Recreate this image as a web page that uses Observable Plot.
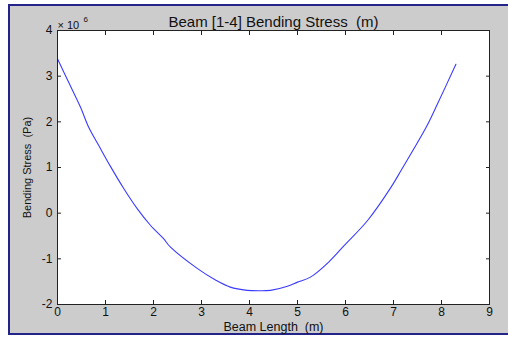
<!DOCTYPE html>
<html>
<head>
<meta charset="utf-8">
<script src="https://cdn.jsdelivr.net/npm/d3@7"></script>
<script src="https://cdn.jsdelivr.net/npm/@observablehq/plot@0.6"></script>
<style>
  html, body { margin: 0; padding: 0; background: #ffffff; }
  #wrap { position: relative; width: 508px; height: 338px; overflow: hidden; }
  #panel { position: absolute; left: 8px; top: 4px; width: 500px; height: 331px;
           background: #cccccc; border-top: 2px solid #23238a; border-left: 2px solid #23238a;
           border-bottom: 2px solid #23238a; box-sizing: border-box; }
  #chart { position: absolute; left: 0; top: 0; }
</style>
</head>
<body>
<div id="wrap"><div id="panel"></div><div id="chart"></div></div>
<script>
// Beam length (m)
const beamLength = [0, 0.24, 0.48, 0.65, 0.86, 1.10, 1.38, 1.66, 1.94, 2.21, 2.35, 2.91, 3.30, 3.60, 3.95, 4.20, 4.44, 4.79, 5.00, 5.27, 5.65, 5.98, 6.46, 6.95, 7.16, 7.68, 7.92, 8.30];
// Bending stress (x 10^6 Pa)
const bendingStress = [3.38, 2.85, 2.32, 1.88, 1.48, 1.03, 0.54, 0.10, -0.27, -0.56, -0.74, -1.21, -1.47, -1.62, -1.69, -1.70, -1.69, -1.60, -1.51, -1.40, -1.07, -0.70, -0.16, 0.57, 0.94, 1.88, 2.40, 3.26];
const xTicks = [0, 1, 2, 3, 4, 5, 6, 7, 8, 9];
const yTicks = [-2, -1, 0, 1, 2, 3, 4];
const titleText = "Beam [1-4] Bending Stress  (m)";
const xLabel = "Beam Length  (m)";
const yLabel = "Bending Stress  (Pa)";
const exponentBase = "× 10";
const exponentPower = "6";

const data = beamLength.map((x, i) => ({x, y: bendingStress[i]}));
const font = "'Liberation Sans', Arial, sans-serif";
const blank = () => "";
const plain = d => String(d);

const chart = Plot.plot({
  width: 508,
  height: 338,
  marginLeft: 57,
  marginRight: 19,
  marginTop: 30,
  marginBottom: 34,
  style: {background: "transparent", fontFamily: font, fontSize: "12px", color: "#111"},
  x: {domain: [0, 9]},
  y: {domain: [-2, 4]},
  marks: [
    Plot.frame({fill: "white"}),
    Plot.line(data, {x: "x", y: "y", stroke: "#3b3bff", strokeWidth: 1.1, curve: "catmull-rom"}),
    Plot.frame({stroke: "#222", strokeWidth: 1}),
    Plot.axisX(xTicks, {anchor: "bottom", tickSize: -4, tickFormat: blank, label: null, stroke: "#222"}),
    Plot.axisX(xTicks, {anchor: "top", tickSize: -4, tickFormat: blank, label: null, stroke: "#222"}),
    Plot.axisY(yTicks, {anchor: "left", tickSize: -4, tickFormat: blank, label: null, stroke: "#222"}),
    Plot.axisY(yTicks, {anchor: "right", tickSize: -4, tickFormat: blank, label: null, stroke: "#222"}),
    Plot.axisX(xTicks, {anchor: "bottom", tickSize: 0, tickPadding: 3, tickFormat: plain, label: null, fontSize: 12}),
    Plot.axisX(xTicks, {anchor: "bottom", tickSize: 0, tickFormat: blank, label: xLabel, labelAnchor: "center", labelOffset: 26, labelArrow: "none", fontSize: 12.5}),
    Plot.axisY(yTicks, {anchor: "left", tickSize: 0, tickPadding: 5, tickFormat: plain, label: null, fontSize: 12}),
    Plot.axisY(yTicks, {anchor: "left", tickSize: 0, tickFormat: blank, label: yLabel, labelAnchor: "center", labelOffset: 34, labelArrow: "none", fontSize: 11}),
    Plot.text([titleText], {frameAnchor: "top", dy: -14, text: d => d, fontSize: 15, fill: "#111"}),
    Plot.text([exponentBase], {frameAnchor: "top-left", dy: -9, textAnchor: "start", text: d => d, fontSize: 11, fill: "#111"}),
    Plot.text([exponentPower], {frameAnchor: "top-left", dx: 26, dy: -14, textAnchor: "start", text: d => d, fontSize: 8, fill: "#111"})
  ]
});
document.getElementById("chart").appendChild(chart);
</script>
</body>
</html>
